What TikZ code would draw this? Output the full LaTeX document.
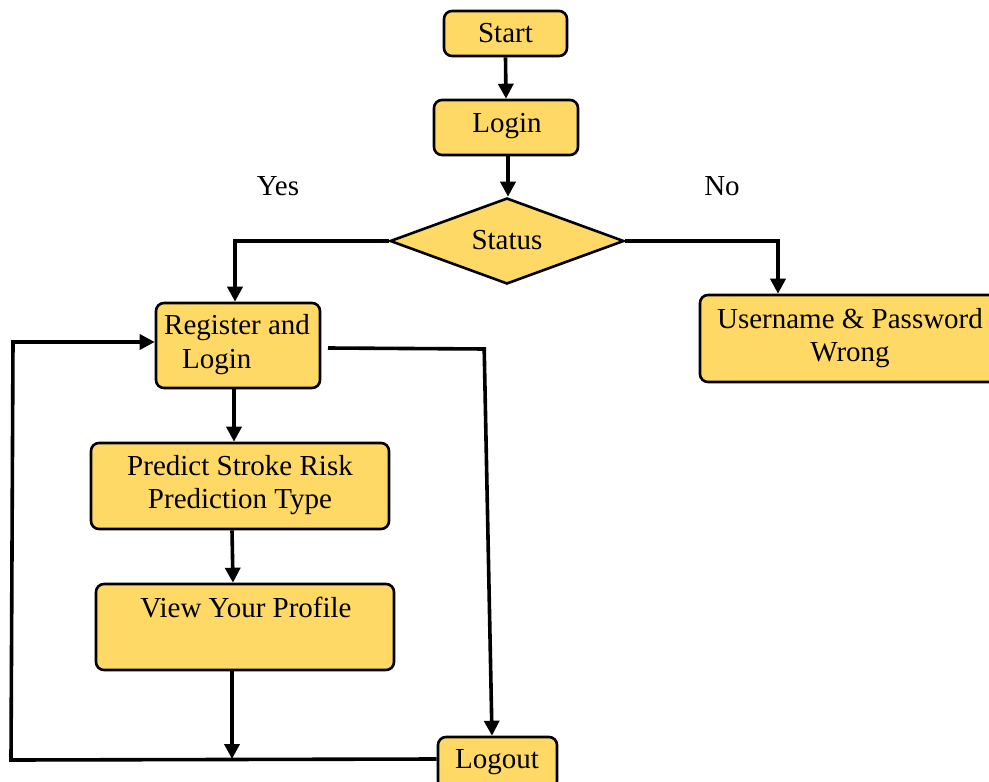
\documentclass[tikz,border=0pt]{standalone}
\usepackage{fontspec}
\setmainfont{Liberation Serif}
\usetikzlibrary{shapes.geometric,arrows.meta}
\definecolor{boxyellow}{HTML}{FFD966}
\tikzset{
  box/.style={draw, line width=2.6pt, rounded corners=8pt, fill=boxyellow, inner sep=0pt},
  lbl/.style={font=\fontsize{29}{33}\selectfont, inner sep=0pt, align=center, yshift=-2pt},
  conn/.style={line width=3.6pt, -{Triangle[length=15pt,width=15pt]}},
  plain/.style={line width=3.6pt}
}
\begin{document}
\begin{tikzpicture}[x=1pt,y=-1pt]
\useasboundingbox (0,0) rectangle (989,782);
% boxes
\node[box, minimum width=123pt, minimum height=45pt] (start) at (505.5,33.5) {};
\node[box, minimum width=144pt, minimum height=55pt] (login) at (506,127.5) {};
\node[draw, diamond, line width=2.6pt, fill=boxyellow, inner sep=0pt, minimum width=234pt, minimum height=86pt] (status) at (507,241) {};
\node[box, minimum width=300pt, minimum height=87pt] (user) at (850,338.5) {};
\node[box, minimum width=164pt, minimum height=85pt] (reg) at (238,345.5) {};
\node[box, minimum width=298pt, minimum height=86pt] (pred) at (240,486) {};
\node[box, minimum width=298pt, minimum height=86pt] (view) at (245,627) {};
\node[box, minimum width=119pt, minimum height=52pt] (logout) at (497.5,763) {};
% texts
\node[lbl] (tstart) at (505.5,31) {Start};
\node[lbl] (tlogin) at (507,124) {Login};
\node[lbl] (tstatus) at (507,238) {Status};
\node[lbl] (tuser) at (850,336) {Username \& Password\\Wrong};
\node[lbl, anchor=west] (treg1) at (164,326) {Register and};
\node[lbl, anchor=west] (treg2) at (182,360) {Login};
\node[lbl] (tpred) at (240,483) {Predict Stroke Risk\\Prediction Type};
\node[lbl] (tview) at (246,606) {View Your Profile};
\node[lbl] (tlogout) at (497,760) {Logout};
\node[lbl] (yes) at (278,184) {Yes};
\node[lbl] (no) at (722,184) {No};
% coordinates
\coordinate (j) at (232,759);
\coordinate (bl) at (11,760);
\coordinate (tl) at (13,342);
\coordinate (rr) at (328,348);
\coordinate (rc) at (486,349);
% connectors
\draw[conn] (start.south) -- (login.north);
\draw[conn] ([xshift=2pt]login.south) -- ([xshift=1pt]status.north);
\draw[conn] (status.west) -| ([xshift=-3pt]reg.north);
\draw[conn] (status.east) -| ([xshift=-72pt]user.north);
\draw[conn] ([xshift=-4pt]reg.south) -- ([xshift=-4pt]reg.south |- pred.north);
\draw[conn] ([xshift=-8pt]pred.south) -- ([xshift=-7pt]pred.south |- view.north);
\draw[conn] ([xshift=-13pt]view.south) -- (j);
\draw[plain] ([yshift=4pt]logout.west) -- (bl) -- (tl);
\draw[conn] ([xshift=-1.8pt]tl) -- ([yshift=3.5pt]reg.west);
\draw[plain] (rr) -- (rc);
\draw[conn] ([xshift=-1.8pt]rc) -- ([xshift=-5.5pt]logout.north);
\end{tikzpicture}
\end{document}
